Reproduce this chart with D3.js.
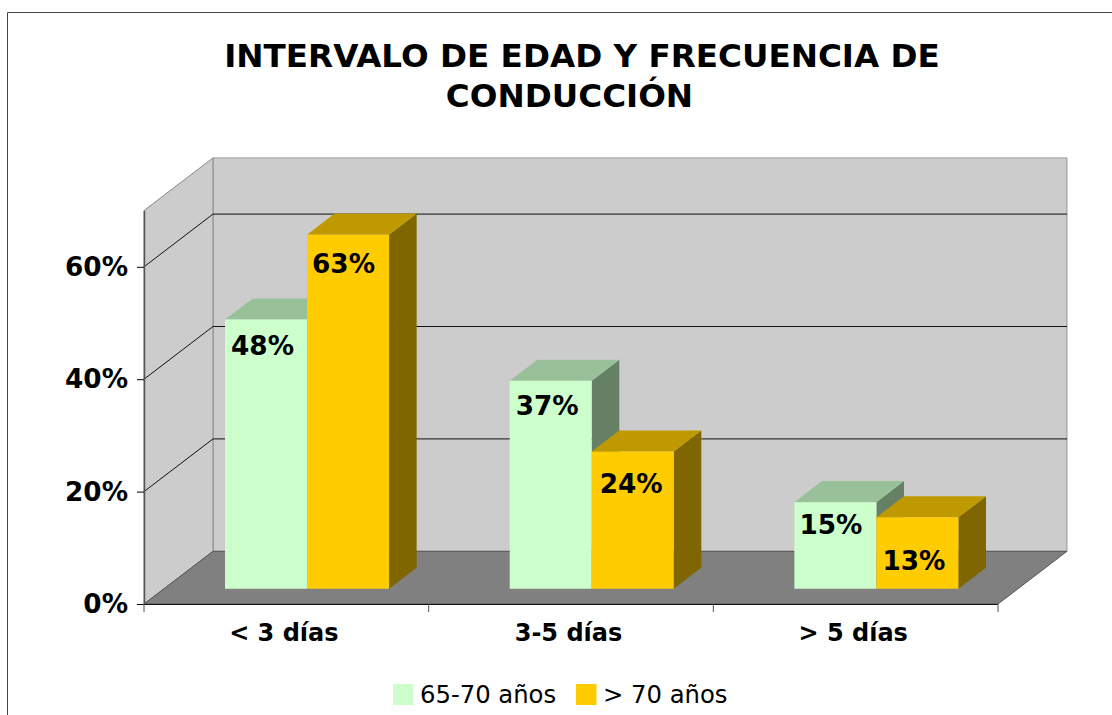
<!DOCTYPE html>
<html>
<head>
<meta charset="utf-8">
<script src="https://cdn.jsdelivr.net/npm/d3@7"></script>
<style>
  html, body { margin: 0; padding: 0; background: #fff; overflow: hidden; }
  text { font-family: "DejaVu Sans", Verdana, sans-serif; fill: #000; }
</style>
</head>
<body>
<div id="chart"></div>
<script>
const categories = ["< 3 días", "3-5 días", "> 5 días"];
const seriesNames = ["65-70 años", "> 70 años"];
const values65to70 = [47.9, 37.0, 15.4];
const valuesOver70 = [63.0, 24.4, 12.7];
const yTicks = [0, 20, 40, 60];
const titleLines = ["INTERVALO DE EDAD Y FRECUENCIA DE", "CONDUCCIÓN"];

const widthValue = 1112;
const heightValue = 715;

// front plane of the plot and how far the back wall is pushed away
const plot = { left: 144, right: 998, bottom: 604 };
const depth = { x: 69, y: 52.7 };
const yMax = 70;

const colors = [
  { front: "#ccffcc", top: "#99c199", side: "#668066" },
  { front: "#ffcc00", top: "#bf9900", side: "#806600" }
];

// Excel put the labels by hand, these are just nudges from the bar's top left corner
const labelNudge = [
  [[6, 35], [6, 34], [5, 32]],
  [[5, 38], [8, 41], [6, 53]]
];

const svg = d3.select("#chart")
  .append("svg")
  .attr("width", widthValue)
  .attr("height", heightValue);

const x0 = d3.scaleBand()
  .domain(categories)
  .range([plot.left, plot.right]);

// bars are 82 wide, sitting in the middle of the category band
const x1 = d3.scaleBand()
  .domain(seriesNames)
  .range([(x0.bandwidth() - 164) / 2 + 0.7, (x0.bandwidth() + 164) / 2 + 0.7]);

const yScale = d3.scaleLinear()
  .domain([0, yMax])
  .range([plot.bottom, plot.bottom - 393.4]);

// z goes 0 (front) to 1 (back wall)
const project = (px, py, z) => [px + z * depth.x, py - z * depth.y];
const poly = pts => "M" + pts.map(p => p.join(",")).join("L") + "Z";

// outer frame, runs off the window on the right and at the bottom
svg.append("path")
  .attr("d", `M7.5,${heightValue} V12.5 H${widthValue}`)
  .attr("fill", "none")
  .attr("stroke", "#444")
  .attr("stroke-width", 1);

// title, second line really does sit left of the first
const titleX = [582, 569.5];
svg.append("g").selectAll("text")
  .data(titleLines)
  .enter()
  .append("text")
    .attr("x", (d, i) => titleX[i])
    .attr("y", (d, i) => 67 + i * 40)
    .attr("text-anchor", "middle")
    .style("font-size", "32.6px")
    .style("font-weight", "bold")
    .text(d => d);

const yTop = yScale(yMax);
const yBase = yScale(0);

// back wall
svg.append("path")
  .attr("d", poly([
    project(plot.left, yTop, 1), project(plot.right, yTop, 1),
    project(plot.right, yBase, 1), project(plot.left, yBase, 1)
  ]))
  .attr("fill", "#cccccc")
  .attr("stroke", "#999");

// side wall
svg.append("path")
  .attr("d", poly([
    project(plot.left, yTop, 0), project(plot.left, yTop, 1),
    project(plot.left, yBase, 1), project(plot.left, yBase, 0)
  ]))
  .attr("fill", "#cccccc")
  .attr("stroke", "#888");

// floor
svg.append("path")
  .attr("d", poly([
    project(plot.left, yBase, 0), project(plot.left, yBase, 1),
    project(plot.right, yBase, 1), project(plot.right, yBase, 0)
  ]))
  .attr("fill", "#808080")
  .attr("stroke", "#555");

// gridlines, front-left corner to back wall and then across
const gridValues = yTicks.filter(d => d > 0);
svg.append("g").selectAll("path")
  .data(gridValues)
  .enter()
  .append("path")
    .attr("d", d => {
      const a = project(plot.left, yScale(d), 0);
      const b = project(plot.left, yScale(d), 1);
      const c = project(plot.right, yScale(d), 1);
      return `M${a}L${b}L${c}`;
    })
    .attr("fill", "none")
    .attr("stroke", "#111")
    .attr("stroke-width", 1);

// axes
const yAxis = svg.append("g")
  .attr("transform", `translate(${plot.left}, 0)`)
  .call(d3.axisLeft(yScale).tickValues(yTicks).tickFormat(d => d + "%").tickSize(7).tickSizeOuter(0));
yAxis.select(".domain").attr("stroke", "#555").attr("stroke-width", 1.5);
yAxis.selectAll("text")
  .attr("x", -16)
  .style("font-size", "26.3px")
  .style("font-weight", "bold")
  .style("font-family", '"DejaVu Sans", Verdana, sans-serif');

const xAxis = svg.append("g")
  .attr("transform", `translate(-2.5, ${plot.bottom})`)
  .call(d3.axisBottom(x0).tickSize(0).tickPadding(20));
xAxis.select(".domain").remove();
xAxis.selectAll("text")
  .style("font-size", "24px")
  .style("font-weight", "bold")
  .style("font-family", '"DejaVu Sans", Verdana, sans-serif');

svg.append("line")
  .attr("x1", plot.left)
  .attr("x2", plot.right)
  .attr("y1", plot.bottom + 0.5)
  .attr("y2", plot.bottom + 0.5)
  .attr("stroke", "#111");

// tick marks sit between the categories
svg.append("g").selectAll("line")
  .data(d3.range(categories.length + 1))
  .enter()
  .append("line")
    .attr("x1", i => plot.left + i * x0.step())
    .attr("x2", i => plot.left + i * x0.step())
    .attr("y1", plot.bottom)
    .attr("y2", plot.bottom + 8)
    .attr("stroke", "#555");

// bars
const zFront = 0.29;
const zBack = 0.69;
const baseY = yBase;
[values65to70, valuesOver70].forEach((vals, s) => {
  const g = svg.append("g");
  const c = colors[s];
  vals.forEach((v, i) => {
    // bar starts at the front of its slot, on the floor
    const left = x0(categories[i]) + x1(seriesNames[s]);
    const right = left + x1.bandwidth();
    const h = yScale(0) - yScale(v);
    const fl = project(left, baseY, zFront);
    const fr = project(right, baseY, zFront);
    const brb = project(right, baseY, zBack);
    const tl = [fl[0], fl[1] - h];
    const tr = [fr[0], fr[1] - h];
    const tbr = [brb[0], brb[1] - h];
    const tbl = [tl[0] + (brb[0] - fr[0]), tl[1] + (brb[1] - fr[1])];

    g.append("path").attr("d", poly([fr, brb, tbr, tr])).attr("fill", c.side);
    g.append("path").attr("d", poly([tl, tr, tbr, tbl])).attr("fill", c.top);
    g.append("path").attr("d", poly([tl, tr, fr, fl])).attr("fill", c.front);
  });
});

// data labels go on last so nothing covers them
[values65to70, valuesOver70].forEach((vals, s) => {
  vals.forEach((v, i) => {
    const left = x0(categories[i]) + x1(seriesNames[s]);
    const top = project(left, yScale(v), zFront);
    svg.append("text")
      .attr("x", top[0] + labelNudge[s][i][0])
      .attr("y", top[1] + labelNudge[s][i][1])
      .style("font-size", "26.3px")
      .style("font-weight", "bold")
      .text(Math.round(v) + "%");
  });
});

// legend
const legend = svg.append("g");
const legendX = [393, 576];
const legendTextX = [420, 603];
seriesNames.forEach((name, i) => {
  legend.append("rect")
    .attr("x", legendX[i])
    .attr("y", 684)
    .attr("width", 20.5)
    .attr("height", 21)
    .attr("fill", colors[i].front);
  legend.append("text")
    .attr("x", legendTextX[i])
    .attr("y", 703)
    .style("font-size", "24.3px")
    .text(name);
});
</script>
</body>
</html>
